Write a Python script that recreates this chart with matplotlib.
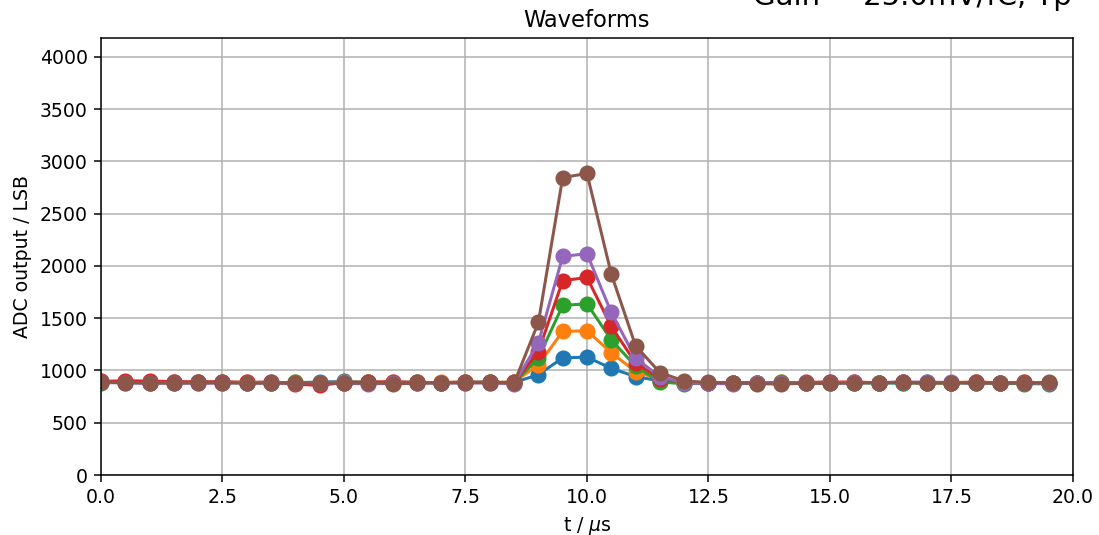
import numpy as np
from matplotlib import pyplot as plt

# tiempo de muestreo (us)
t = np.arange(0, 20, 0.5)

# salida del ADC por canal (LSB)
wf_c0 = [890, 885, 882, 888, 885, 890, 882, 886, 884, 889, 895, 886, 884, 888, 882, 890, 887,
         885, 960, 1120, 1128, 1020, 942, 900, 880,
         878, 882, 876, 880, 884, 886, 880, 883, 878, 885, 880, 886, 879, 882, 880]
wf_c1 = [895, 888, 884, 886, 890, 884, 888, 882, 886, 884, 888, 885, 890, 884, 886, 888, 885,
         890, 1054, 1373, 1380, 1170, 990, 915, 885,
         880, 884, 882, 886, 880, 884, 888, 882, 886, 880, 884, 888, 882, 886, 878]
wf_c2 = [880, 892, 886, 884, 888, 886, 882, 884, 886, 882, 884, 888, 884, 886, 882, 885, 888,
         880, 1120, 1622, 1638, 1293, 1040, 891, 872,
         878, 882, 880, 886, 878, 882, 884, 880, 884, 878, 882, 880, 876, 874, 872]
wf_c3 = [895, 902, 898, 894, 890, 892, 886, 890, 868, 858, 884, 888, 892, 886, 884, 888, 886,
         885, 1180, 1858, 1890, 1421, 1073, 920, 885,
         880, 878, 882, 880, 886, 890, 888, 884, 886, 882, 884, 888, 884, 886, 880]
wf_c4 = [885, 880, 878, 882, 876, 880, 884, 882, 880, 884, 876, 872, 878, 880, 884, 882, 880,
         875, 1264, 2091, 2117, 1555, 1118, 940, 880,
         876, 872, 878, 884, 880, 882, 886, 884, 890, 888, 886, 880, 884, 882, 880]
wf_c5 = [890, 884, 880, 878, 882, 884, 876, 880, 878, 882, 876, 884, 872, 878, 880, 882, 884,
         878, 1459, 2845, 2884, 1923, 1236, 980, 900,
         885, 880, 874, 870, 878, 876, 880, 884, 886, 880, 884, 878, 882, 880, 885]

canales = [wf_c0, wf_c1, wf_c2, wf_c3, wf_c4, wf_c5]

fig = plt.figure(figsize=(1099 / 136, 535 / 136), dpi=136)
ax = fig.add_axes([0.0919, 0.1121, 0.8844, 0.8169])

for wf in canales:
    ax.plot(t, wf, marker='o', markersize=7.5, linewidth=1.6)

ax.set_xlim(0, 20)
ax.set_ylim(0, 4180)
ax.set_yticks(np.arange(0, 4001, 500))
ax.grid(True)
ax.set_title('Waveforms')
ax.set_xlabel(r't / $\mu$s')
ax.set_ylabel('ADC output / LSB')

# texto recortado arriba a la derecha (en el original sale cortado)
fig.text(0.685, 0.991, 'Gain = 25.0mV/fC, Tp = 1.0µs', fontsize=15.5, va='baseline', ha='left')

fig.savefig('out.png', dpi=136)
